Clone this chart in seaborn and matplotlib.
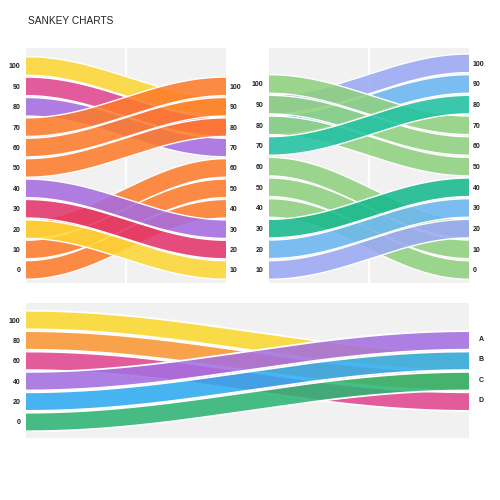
import numpy as np
import matplotlib
matplotlib.use("Agg")
import matplotlib.pyplot as plt
import seaborn as sns
import pandas as pd

# ---------------- data ----------------
title = "SANKEY CHARTS"

# palette
YELLOW = "#fdd633"
MAGENTA = "#e0458f"
PURPLE = "#a56ce0"
ORANGE = "#fd7b2a"
CRIMSON = "#e2336b"
GREEN = "#8fd17e"
TEAL = "#1fc1a2"
TEAL2 = "#16b98d"
BLUE = "#6bb6f2"
PERI = "#9aa8f4"

# panel 1 (top-left)
p1_left_labels = [100, 90, 80, 70, 60, 50, 40, 30, 20, 10, 0]
p1_right_labels = [100, 90, 80, 70, 60, 50, 40, 30, 20, 10]
p1_src = [20, 10, 0, 40, 30, 20, 100, 90, 80, 70, 60, 50]
p1_dst = [60, 50, 40, 30, 20, 10, 90, 80, 70, 100, 90, 80]
p1_col = [ORANGE, ORANGE, ORANGE, PURPLE, CRIMSON, YELLOW,
          YELLOW, MAGENTA, PURPLE, ORANGE, ORANGE, ORANGE]

# panel 2 (top-right)
p2_left_labels = [100, 90, 80, 70, 60, 50, 40, 30, 20, 10]
p2_right_labels = [100, 90, 80, 70, 60, 50, 40, 30, 20, 10, 0]
p2_src = [90, 80, 100, 90, 80, 70, 60, 50, 40, 30, 20, 10]
p2_dst = [100, 90, 70, 60, 50, 80, 20, 10, 0, 40, 30, 20]
p2_col = [PERI, BLUE, GREEN, GREEN, GREEN, TEAL,
          GREEN, GREEN, GREEN, TEAL2, BLUE, PERI]

# panel 3 (bottom)
p3_left_labels = [100, 80, 60, 40, 20, 0]
p3_right_labels = ["A", "B", "C", "D"]
p3_src = [100, 80, 60, 40, 20, 0]
p3_dst = ["B", "C", "D", "A", "B", "C"]
p3_col = ["#fbd82e", "#fa9632", "#e0468e", "#a46ee0", "#2eaaf0", "#2db574"]

# ---------------- style ----------------
sns.set_theme(style="white")
plt.rcParams["font.family"] = ["Liberation Sans", "DejaVu Sans"]
BG = "#f1f1f1"

fig = plt.figure(figsize=(5, 5), dpi=100)
fig.patch.set_facecolor("white")


def ribbon(ax, y0, y1, hpx, color, z, wpx, hax, ylim, lw=1.0, alpha=0.87):
    """Ribbon of constant perpendicular thickness (hpx = half width in px)."""
    sx = wpx / 1.0
    sy = hax / (ylim[1] - ylim[0])
    x = np.linspace(0, 1, 240)
    s = (1 - np.cos(np.pi * x)) / 2
    yc = y0 + (y1 - y0) * s
    X, Y = x * sx, yc * sy
    dX, dY = np.gradient(X), np.gradient(Y)
    n = np.hypot(dX, dY)
    nx, ny = -dY / n, dX / n
    xt, yt = (X + hpx * nx) / sx, (Y + hpx * ny) / sy
    xb, yb = (X - hpx * nx) / sx, (Y - hpx * ny) / sy
    ax.fill(np.concatenate([xt, xb[::-1]]), np.concatenate([yt, yb[::-1]]),
            color=color, alpha=alpha, lw=0, zorder=z)
    for ex, ey in ((xt, yt), (xb, yb)):
        d = pd.DataFrame({"x": ex, "y": ey})
        sns.lineplot(data=d, x="x", y="y", color="white", lw=lw, ax=ax,
                     zorder=z + 0.5, estimator=None, sort=False, legend=False)


def setup(ax, ylim, mid=True):
    ax.set_facecolor(BG)
    ax.set_xlim(0, 1)
    ax.set_ylim(*ylim)
    for sp in ax.spines.values():
        sp.set_visible(False)
    ax.set_xticks([])
    if mid:
        ax.axvline(0.5, color="white", lw=1.6, zorder=0.5)


def finish(ax, ylim):
    ax.set_xlim(0, 1)
    ax.set_ylim(*ylim)
    ax.set_xlabel("")
    ax.set_ylabel("")


tick_kw = dict(fontsize=5, fontweight="bold", color="#222222")


def right_axis(ax, ylim, ticks, labels, pad):
    r = ax.twinx()
    r.set_ylim(*ylim)
    r.set_yticks(ticks)
    r.set_yticklabels(labels, **tick_kw)
    r.tick_params(axis="y", length=0, pad=pad)
    r.grid(False)
    for sp in r.spines.values():
        sp.set_visible(False)
    return r


# ---------- panel 1 ----------
W1, H1 = 200, 235
ax1 = fig.add_axes([26 / 500, 1 - 283 / 500, W1 / 500, H1 / 500])
ylim1 = (-6.4, 108.8)
setup(ax1, ylim1)
for i, (s, d, c) in enumerate(zip(p1_src, p1_dst, p1_col)):
    ribbon(ax1, s, d - 10, 9.3, c, 2 + i, W1, H1, ylim1)
finish(ax1, ylim1)
ax1.set_yticks(p1_left_labels)
ax1.set_yticklabels([str(v) for v in p1_left_labels], **tick_kw)
ax1.tick_params(axis="y", length=0, pad=4)
right_axis(ax1, ylim1, [v - 10 for v in p1_right_labels],
           [str(v) for v in p1_right_labels], 2.5)

# ---------- panel 2 ----------
ax2 = fig.add_axes([269 / 500, 1 - 283 / 500, W1 / 500, H1 / 500])
ylim2 = (3.7, 117.4)
setup(ax2, ylim2)
for i, (s, d, c) in enumerate(zip(p2_src, p2_dst, p2_col)):
    ribbon(ax2, s, d + 10, 9.3, c, 2 + i, W1, H1, ylim2)
finish(ax2, ylim2)
ax2.set_yticks(p2_left_labels)
ax2.set_yticklabels([str(v) for v in p2_left_labels], **tick_kw)
ax2.tick_params(axis="y", length=0, pad=4)
right_axis(ax2, ylim2, [v + 10 for v in p2_right_labels],
           [str(v) for v in p2_right_labels], 2.5)

# ---------- panel 3 ----------
W3, H3 = 443, 135
ax3 = fig.add_axes([26 / 500, 1 - 438 / 500, W3 / 500, H3 / 500])
ylim3 = (-15.7, 116.7)
setup(ax3, ylim3, mid=False)
right_pos = {k: 80 - 20 * i for i, k in enumerate(p3_right_labels)}
for i, (s, d, c) in enumerate(zip(p3_src, p3_dst, p3_col)):
    ribbon(ax3, s, right_pos[d], 9.3, c, 2 + i, W3, H3, ylim3, lw=1.3)
finish(ax3, ylim3)
ax3.set_yticks(p3_left_labels)
ax3.set_yticklabels([str(v) for v in p3_left_labels], **tick_kw)
ax3.tick_params(axis="y", length=0, pad=4)
right_axis(ax3, ylim3, [right_pos[k] + 2 for k in p3_right_labels],
           p3_right_labels, 7)

fig.text(28 / 500, 1 - 21 / 500, title, fontsize=7.3, color="#222222",
         va="center", ha="left")

fig.savefig("out.png", dpi=100, facecolor="white")
